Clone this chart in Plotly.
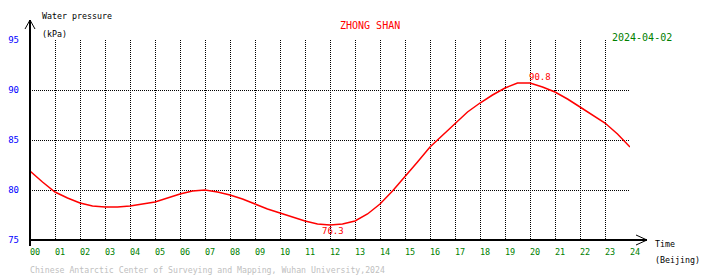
import plotly.graph_objects as go

hours = [i * 0.5 for i in range(49)]
pressure = [81.9, 80.8, 79.8, 79.2, 78.7, 78.4, 78.3, 78.3, 78.4, 78.6,
            78.8, 79.2, 79.6, 79.9, 80.0, 79.8, 79.5, 79.1, 78.6, 78.1,
            77.7, 77.3, 76.9, 76.6, 76.5, 76.6, 76.9, 77.6, 78.6, 79.9,
            81.3, 82.8, 84.3, 85.5, 86.7, 87.8, 88.7, 89.5, 90.2, 90.7,
            90.7, 90.3, 89.8, 89.1, 88.3, 87.5, 86.7, 85.6, 84.3]
x_ticks = list(range(25))
x_ticktext = [f"{h:02d}" for h in x_ticks]
y_ticks = [75, 80, 85, 90, 95]
max_label = {"x": 20.4, "y": 91.3, "text": "90.8"}
min_label = {"x": 12.1, "y": 75.9, "text": "76.3"}

W, H = 710, 278
L, R, T, B = 30, 80, 40, 38
PW, PH = W - L - R, H - T - B

def px(xp):
    return (xp - L) / PW

def py(yp):
    return (H - B - yp) / PH

MONO = "DejaVu Sans Mono"

fig = go.Figure()
fig.add_trace(go.Scatter(x=hours, y=pressure, mode="lines",
                         line=dict(color="#ff0000", width=1.5), hoverinfo="skip"))

fig.update_layout(
    width=W, height=H, margin=dict(l=L, r=R, t=T, b=B),
    paper_bgcolor="white", plot_bgcolor="white", showlegend=False,
    xaxis=dict(range=[0, 24], tickvals=x_ticks, ticktext=x_ticktext,
               showgrid=True, gridcolor="black", griddash="1px,1px", gridwidth=1,
               zeroline=False, showline=False, ticks="", automargin=False,
               tickfont=dict(family=MONO, size=8.5, color="#008000"),
               ticklabelshift=5, ticklabelstandoff=5),
    yaxis=dict(range=[75, 95], tickvals=y_ticks,
               showgrid=True, gridcolor="black", griddash="1px,1px", gridwidth=1,
               zeroline=False, showline=False, ticks="", automargin=False,
               tickfont=dict(family=MONO, size=9, color="#0000ff"),
               ticklabelstandoff=10),
)

shapes = [
    # y axis
    dict(type="line", xref="paper", yref="paper", x0=px(30), x1=px(30), y0=py(246), y1=py(20),
         line=dict(color="black", width=2)),
    dict(type="line", xref="paper", yref="paper", x0=px(25), x1=px(30), y0=py(29), y1=py(20),
         line=dict(color="black", width=1)),
    dict(type="line", xref="paper", yref="paper", x0=px(35), x1=px(30), y0=py(29), y1=py(20),
         line=dict(color="black", width=1)),
    # x axis
    dict(type="line", xref="paper", yref="paper", x0=px(29), x1=px(647), y0=py(240), y1=py(240),
         line=dict(color="black", width=2)),
    dict(type="line", xref="paper", yref="paper", x0=px(636), x1=px(647), y0=py(235), y1=py(240),
         line=dict(color="black", width=1)),
    dict(type="line", xref="paper", yref="paper", x0=px(636), x1=px(647), y0=py(245), y1=py(240),
         line=dict(color="black", width=1)),
]
fig.update_layout(shapes=shapes)

def txt(x, y, text, color, size, anchor="left"):
    fig.add_annotation(xref="paper", yref="paper", x=px(x), y=py(y), text=text,
                       showarrow=False, xanchor=anchor, yanchor="middle",
                       font=dict(family=MONO, size=size, color=color))

txt(40, 16, "Water pressure", "black", 8.3)
txt(40, 34, "(kPa)", "black", 8.3)
txt(370, 25, "ZHONG SHAN", "#ff0000", 10, "center")
txt(610, 37, "2024-04-02", "#008000", 10)
txt(653, 244, "Time", "black", 8.3)
txt(653, 260, "(Beijing)", "black", 8.3)
txt(28, 270, "Chinese Antarctic Center of Surveying and Mapping, Wuhan University,2024", "#c0c0c0", 8.2)

for lab in (max_label, min_label):
    fig.add_annotation(x=lab["x"], y=lab["y"], text=lab["text"], showarrow=False,
                       xanchor="center", yanchor="middle",
                       font=dict(family=MONO, size=9, color="#ff0000"))

fig.write_html("out.html")
